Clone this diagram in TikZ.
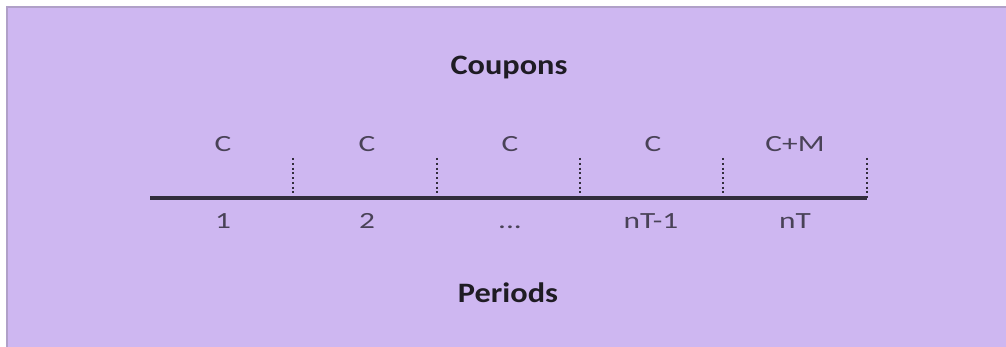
\documentclass[tikz,border=0pt]{standalone}
\usepackage{fontspec}
\setmainfont{Carlito}
\definecolor{lilac}{RGB}{206,183,241}
\definecolor{framegray}{RGB}{176,160,200}
\definecolor{axisgray}{RGB}{50,45,60}
\begin{document}
\begin{tikzpicture}[x=0.025cm,y=0.025cm, every node/.style={anchor=base,inner sep=0pt,xscale=1.35,text=axisgray!85!lilac,font=\fontsize{16.5}{19}\selectfont}]

	\useasboundingbox (0,0) rectangle (1006,347);
	\fill[white] (0,0) rectangle (1006,347);
	\fill[lilac] (7,0) rectangle (1006,340);
	\draw[framegray,line width=0.8pt] (7,0) -- (7,340) -- (1006,340);

	\begin{scope}[every node/.style={anchor=base,inner sep=0pt,xscale=1.15,text=black!85!lilac,font=\fontsize{20}{24}\selectfont\bfseries}]
	\node (coupons) at (509,272) {Coupons};
	\node (periods) at (508,44) {Periods};
	\end{scope}

	\begin{scope}
	\coordinate (t 0) at (150,149);
	\coordinate (t 1) at (293,149);
	\coordinate (t 2) at (437,149);
	\coordinate (t 3) at (580,149);
	\coordinate (t 4) at (723,149);
	\coordinate (t 5) at (867,149);
	\coordinate (u 1) at (293,189);
	\coordinate (u 2) at (437,189);
	\coordinate (u 3) at (580,189);
	\coordinate (u 4) at (723,189);
	\coordinate (u 5) at (867,189);

	\node (c 1) at (223,195) {C};
	\node (c 2) at (367,195) {C};
	\node (c 3) at (510,195) {C};
	\node (c 4) at (653,195) {C};
	\node (c 5) at (795,195) {C+M};

	\node (p 1) at (223,118) {1};
	\node (p 2) at (367,118) {2};
	\node (p 3) at (510,118) {...};
	\node (p 4) at (651,118) {nT-1};
	\node (p 5) at (795,118) {nT};
	\end{scope}

	\begin{scope}[axisgray]
	\draw[line width=2.4pt] (t 0) -- (t 5);
	\draw[line width=1.4pt,dotted] (u 1) -- (t 1);
	\draw[line width=1.4pt,dotted] (u 2) -- (t 2);
	\draw[line width=1.4pt,dotted] (u 3) -- (t 3);
	\draw[line width=1.4pt,dotted] (u 4) -- (t 4);
	\draw[line width=1.4pt,dotted] (u 5) -- (t 5);
	\end{scope}

\end{tikzpicture}
\end{document}
